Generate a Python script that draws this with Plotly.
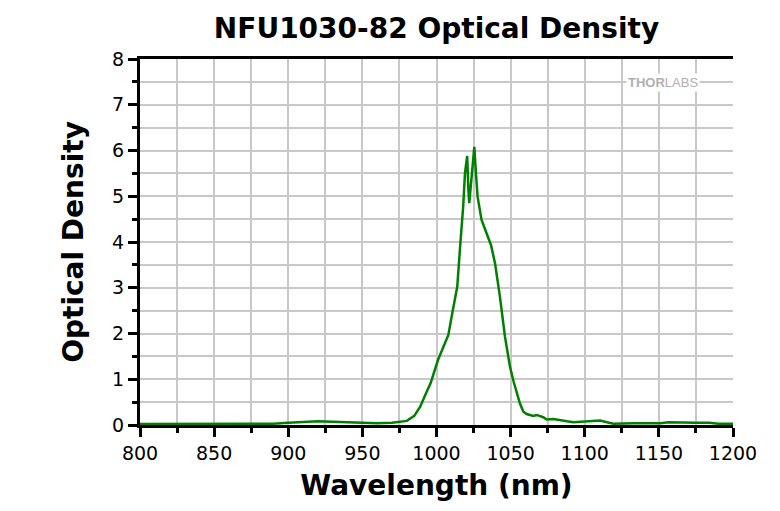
import plotly.graph_objects as go

wavelength = [800, 820, 840, 860, 880, 890, 900, 910, 920, 930, 940, 950, 960, 970, 975, 980,
              985, 989, 993, 996, 1001, 1005, 1008, 1011, 1014, 1016, 1018, 1019.2, 1020.7,
              1021.5, 1022.1, 1023.9, 1025.5, 1026.6, 1027.7, 1030.4, 1033.8, 1036.8, 1039.5,
              1042.8, 1046.2, 1049.6, 1052, 1054.1, 1056.3, 1058.6, 1060.8, 1065.3, 1067.6,
              1072, 1074.3, 1078.8, 1083, 1088, 1092.3, 1098, 1103.5, 1110.3, 1115, 1119.3,
              1133, 1145, 1151, 1156.4, 1164, 1175, 1184, 1190, 1200]
optical_density = [0.02, 0.02, 0.02, 0.02, 0.02, 0.03, 0.05, 0.06, 0.08, 0.07, 0.06, 0.06, 0.04, 0.05,
                   0.07, 0.09, 0.2, 0.4, 0.7, 0.91, 1.42, 1.72, 1.97, 2.51, 3.02, 3.93, 4.77, 5.5, 5.88,
                   5.14, 4.85, 5.5, 6.08, 5.5, 4.99, 4.48, 4.19, 3.93, 3.53,
                   2.8, 1.93, 1.27, 0.95, 0.69, 0.47, 0.29, 0.24, 0.2, 0.22,
                   0.17, 0.12, 0.13, 0.1, 0.08, 0.06, 0.07, 0.09, 0.1, 0.06, 0.03,
                   0.04, 0.04, 0.04, 0.06, 0.05, 0.05, 0.05, 0.03, 0.03]

x_ticks = [800, 850, 900, 950, 1000, 1050, 1100, 1150, 1200]
y_ticks = [0, 1, 2, 3, 4, 5, 6, 7, 8]

fig = go.Figure()
fig.add_trace(go.Scatter(x=wavelength, y=optical_density, mode="lines",
                         line=dict(color="#008000", width=2.5), showlegend=False))

font_family = "DejaVu Sans, Liberation Sans, Arial, sans-serif"
fig.update_layout(
    width=780, height=511,
    margin=dict(l=140, r=47, t=59, b=86),
    paper_bgcolor="white", plot_bgcolor="white",
    title=dict(text="<b>NFU1030-82 Optical Density</b>", x=0.5, xref="paper", xanchor="center",
               y=0.945, yanchor="middle", font=dict(family=font_family, size=28, color="black")),
    font=dict(family=font_family, color="black"),
    xaxis=dict(range=[800, 1200], tickvals=x_ticks, ticktext=[str(v) for v in x_ticks],
               showline=True, linecolor="black", linewidth=3, mirror=True,
               ticks="outside", ticklen=9, tickwidth=2.5, tickcolor="black",
               tickfont=dict(size=19, family=font_family),
               showgrid=True, gridcolor="#c8c8c8", gridwidth=2,
               minor=dict(dtick=25, tick0=800, showgrid=True, gridcolor="#c8c8c8", gridwidth=2,
                          ticks="outside", ticklen=5, tickwidth=2.5, tickcolor="black"),
               zeroline=False,
               title=dict(text="<b>Wavelength (nm)</b>", font=dict(size=28, family=font_family),
                          standoff=13)),
    yaxis=dict(range=[0, 8], tickvals=y_ticks, ticktext=[str(v) for v in y_ticks],
               showline=True, linecolor="black", linewidth=3, mirror=False,
               ticks="outside", ticklen=9, tickwidth=2.5, tickcolor="black",
               tickfont=dict(size=19, family=font_family),
               showgrid=True, gridcolor="#c8c8c8", gridwidth=2,
               minor=dict(dtick=0.5, tick0=0, showgrid=True, gridcolor="#c8c8c8", gridwidth=2,
                          ticks="outside", ticklen=5, tickwidth=2.5, tickcolor="black"),
               zeroline=False,
               title=dict(text="<b>Optical Density</b>", font=dict(size=28, family=font_family),
                          standoff=21)),
)

fig.add_annotation(x=0.945, y=0.935, xref="paper", yref="paper", xanchor="right", yanchor="middle",
                   text="<b>THOR</b>LABS", showarrow=False, bgcolor="white",
                   font=dict(size=13, color="#b0b0b0", family="Liberation Sans, Arial, sans-serif"))

fig.write_html("out.html")
